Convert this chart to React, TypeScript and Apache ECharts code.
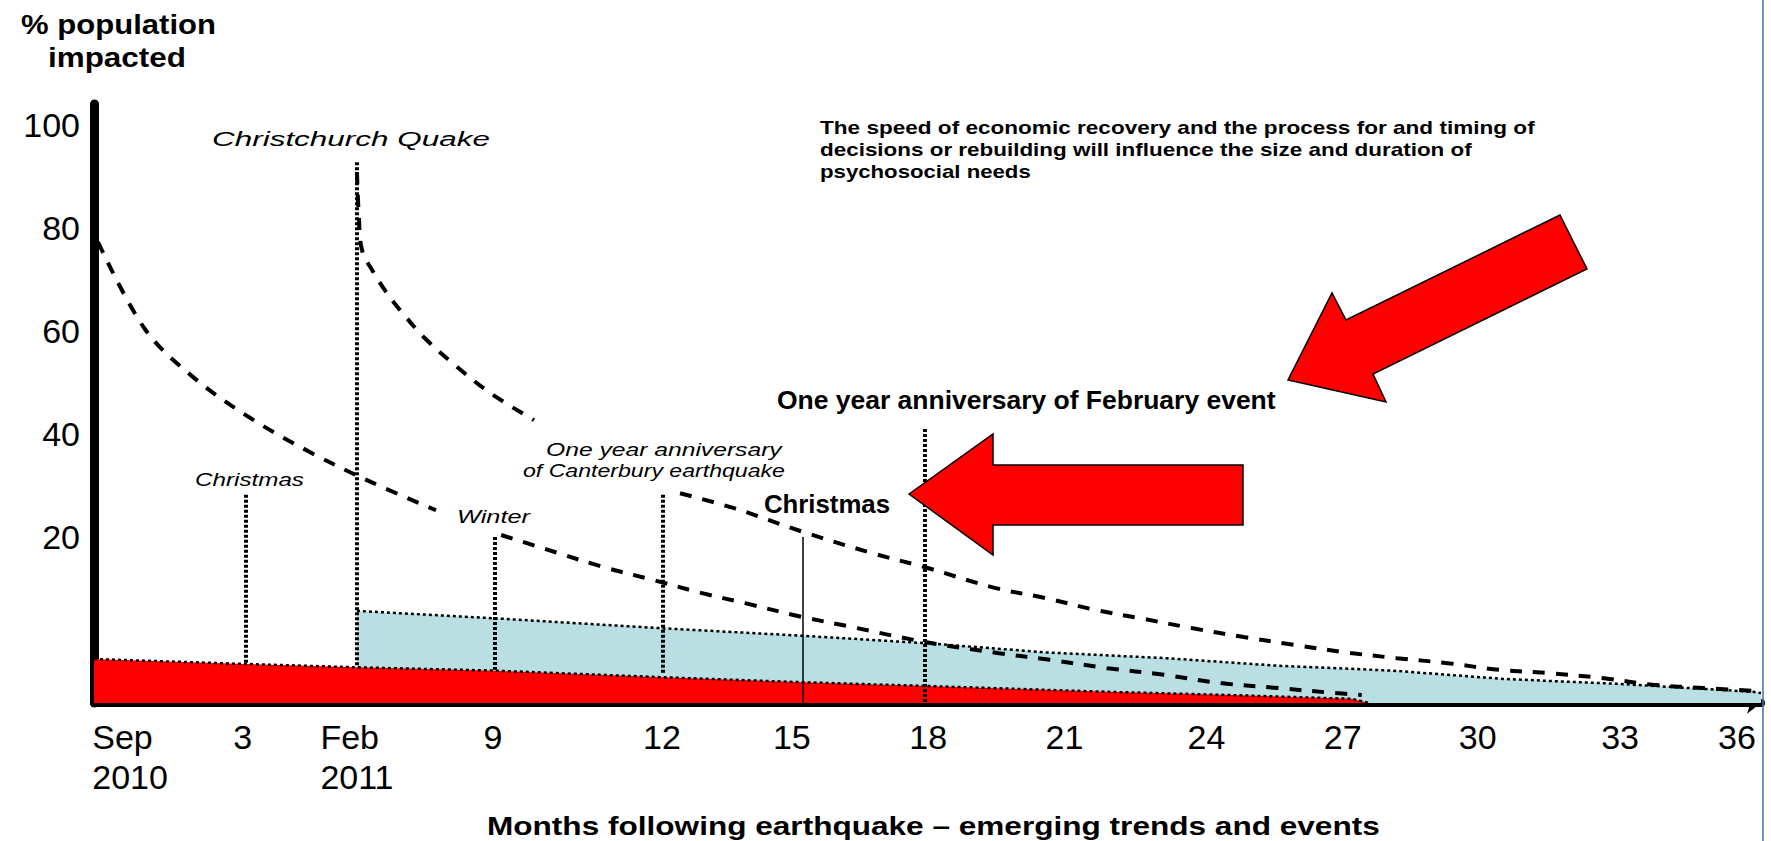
import React, { useEffect, useRef } from 'react';
import * as echarts from 'echarts';

// x: months following the 4 Sep 2010 Canterbury earthquake; y: % population impacted.
// The original diagram draws the 0–20 % band (baseline up to the "20" label) about 1.61x taller
// than the scale used above 20, so values below 20 are mapped onto that stretched band.

const xTickPositions = [0.78, 3.22, 5.69, 8.63, 12.29, 15.1, 18.05, 21.0, 24.07, 27.02, 29.94, 33.02, 35.55];
const xTickLabels = ['Sep\n2010', '3', 'Feb\n2011', '9', '12', '15', '18', '21', '24', '27', '30', '33', '36'];
const yTickValues = [20, 40, 60, 80, 100];

// Dashed decay curve after the Sep 2010 Canterbury quake (null = gap around the "Winter" note)
const canterburyCurveMonths = [0.087, 1.1, 2.14, 3.35, 4.67, 5.99, 7.4, 8.1, 8.81, 9.97, 11.01, 12.12, 13.11, 14.11, 15.3, 16.36, 17.98, 19.58, 20.68, 21.92, 23.15, 24.38, 25.62, 26.85, 27.43];
const canterburyCurveValues = [77.3, 60.4, 51.1, 43.3, 36.5, 30.7, 25.2, null, 20.4, 18.2, 16.4, 14.8, 13.3, 12.0, 10.4, 9.2, 7.35, 6.0, 5.2, 4.2, 3.4, 2.4, 1.8, 1.2, 0.96];

// Dashed decay curve after the Feb 2011 Christchurch quake (null = gap around the anniversary note)
const christchurchCurveMonths = [5.69, 5.73, 5.8, 6.04, 6.32, 6.62, 7.16, 7.81, 8.57, 9.52, 11.1, 12.68, 13.85, 15.34, 16.81, 18.02, 19.47, 20.58, 21.68, 22.65, 23.78, 24.88, 25.98, 27.09, 28.19, 29.29, 30.4, 31.5, 32.63, 33.73, 34.83, 35.94];
const christchurchCurveValues = [90.9, 82.5, 75.7, 71.5, 67.6, 64.1, 58.6, 53.4, 48.0, 42.7, null, 28.5, 25.6, 21.0, 18.1, 16.3, 13.9, 12.65, 11.2, 10.2, 9.0, 7.95, 7.0, 6.1, 5.4, 4.8, 4.0, 3.6, 3.0, 2.2, 1.8, 1.45];

// Red band (from Sep 2010) and light-blue band (from Feb 2011)
const septemberBandMonths = [0, 3.29, 5.69, 8.68, 12.31, 15.34, 18.02, 21.92, 24.64, 27.22, 27.6];
const septemberBandValues = [5.3, 4.7, 4.3, 3.9, 3.1, 2.5, 2.05, 1.35, 0.95, 0.5, 0];
const februaryBandMonths = [5.69, 8.68, 12.31, 15.34, 18.02, 20.6, 23.2, 25.6, 28.1, 30.5, 33.0, 35.9, 36.07];
const februaryBandValues = [11.1, 10.2, 9.0, 8.1, 7.2, 6.1, 5.4, 4.5, 3.9, 2.9, 2.3, 1.35, 1.2];

// Event markers
const eventNames = ['Christmas 2010', 'Christchurch Quake', 'Winter', 'Canterbury anniversary', 'Christmas 2011', 'February anniversary'];
const eventMonths = [3.29, 5.69, 8.68, 12.3, 15.34, 17.98];
const eventTops = [28.2, 92.8, 20.0, 28.2, 20.0, 41.0];
const eventBottoms = [4.8, 4.3, 4.0, 3.4, 0, 0];

const BAND_STRETCH = 8.3 / 5.15;
const toAxis = (v: number | null): number | string =>
  v == null ? '-' : v >= 20 ? v : 20 - (20 - v) * BAND_STRETCH;

const FONT = '"Liberation Sans", Arial, sans-serif';

function measure(text: string, font: string): number {
  try {
    const ctx = document.createElement('canvas').getContext('2d');
    if (!ctx) return 0;
    ctx.font = font;
    return ctx.measureText(text).width;
  } catch (e) {
    return 0;
  }
}

function fitText(text: string, left: number, width: number, cy: number, size: number, weight: string, style: string) {
  const w = measure(text, `${style} ${weight} ${size}px ${FONT}`);
  const sx = w > 0 ? width / w : 1;
  return {
    type: 'text',
    x: left,
    y: cy,
    scaleX: sx,
    z: 30,
    silent: true,
    style: {
      text,
      fontSize: size,
      fontWeight: weight,
      fontStyle: style,
      fontFamily: FONT,
      fill: '#000',
      align: 'left',
      verticalAlign: 'middle',
      textAlign: 'left',
      textVerticalAlign: 'middle',
    },
  };
}

const pairs = (xs: number[], ys: (number | null)[]) => xs.map((x, i) => [x, toAxis(ys[i])]);

export default function App() {
  const ref = useRef<HTMLDivElement>(null);

  useEffect(() => {
    if (!ref.current) return;
    const chart = echarts.init(ref.current, undefined, { renderer: 'svg' });

    const texts = [
      fitText('% population', 21, 195, 25, 27, 'bold', 'normal'),
      fitText('impacted', 48, 138, 57, 27, 'bold', 'normal'),
      fitText('Christchurch Quake', 212, 278, 139, 21, 'normal', 'italic'),
      fitText('The speed of economic recovery and the process for and timing of', 820, 715, 128, 18, 'bold', 'normal'),
      fitText('decisions or rebuilding will influence the size and duration of', 820, 652, 150, 18, 'bold', 'normal'),
      fitText('psychosocial needs', 820, 211, 172, 18, 'bold', 'normal'),
      fitText('One year anniversary of February event', 777, 499, 400, 25, 'bold', 'normal'),
      fitText('Christmas', 764, 126, 504, 25, 'bold', 'normal'),
      fitText('One year anniversary', 546, 236, 450, 18, 'normal', 'italic'),
      fitText('of Canterbury earthquake', 523, 262, 470, 18, 'normal', 'italic'),
      fitText('Christmas', 195, 109, 480, 18, 'normal', 'italic'),
      fitText('Winter', 457, 73, 517, 18, 'normal', 'italic'),
      fitText('Months following earthquake \u2013 emerging trends and events', 487, 893, 826, 25, 'bold', 'normal'),
    ];

    const arrows = [
      {
        type: 'polygon',
        z: 25,
        silent: true,
        shape: { points: [[1560, 215], [1587, 269], [1373, 374], [1386, 402], [1288, 380], [1332, 293], [1346, 320]] },
        style: { fill: '#FF0000', stroke: '#000', lineWidth: 1.5 },
      },
      {
        type: 'polygon',
        z: 25,
        silent: true,
        shape: { points: [[909, 494], [993, 434], [993, 465], [1243, 465], [1243, 525], [993, 525], [993, 555]] },
        style: { fill: '#FF0000', stroke: '#000', lineWidth: 1.5 },
      },
      {
        type: 'line',
        z: 25,
        silent: true,
        shape: { x1: 1763, y1: 0, x2: 1763, y2: 841 },
        style: { stroke: '#3F6FB6', lineWidth: 1.5 },
      },
    ];

    const eventLines = eventNames.map((name, i) => {
      const thin = name === 'Christmas 2011';
      return [
        {
          coord: [eventMonths[i], toAxis(eventTops[i])],
          lineStyle: thin
            ? { color: '#000', width: 1.5, type: 'solid' }
            : { color: '#000', width: 4, type: [3, 2] },
        },
        { coord: [eventMonths[i], toAxis(eventBottoms[i])] },
      ];
    });

    const dashed = { color: '#000', width: 4, type: [12, 11], cap: 'butt' };
    const dotted = { color: '#000', width: 2.5, type: [3, 3] };

    chart.setOption({
      animation: false,
      backgroundColor: '#fff',
      grid: { left: 94, right: 10, top: 104, bottom: 138, containLabel: false },
      xAxis: {
        type: 'value',
        min: 0,
        max: 36.07,
        splitLine: { show: false },
        axisTick: { show: false },
        axisLine: {
          show: true,
          onZero: false,
          symbol: ['none', 'arrow'],
          symbolSize: [16, 14],
          lineStyle: { color: '#000', width: 8 },
        },
        axisLabel: {
          customValues: xTickPositions,
          margin: 14,
          color: '#000',
          fontSize: 34,
          fontFamily: FONT,
          lineHeight: 40,
          formatter: (value: number) => {
            let best = 0;
            for (let i = 1; i < xTickPositions.length; i++) {
              if (Math.abs(xTickPositions[i] - value) < Math.abs(xTickPositions[best] - value)) best = i;
            }
            const t = xTickLabels[best];
            return t.indexOf('\n') >= 0 ? t.split('\n').map((s) => `{l|${s}}`).join('\n') : t;
          },
          rich: {
            l: { align: 'left', fontSize: 34, fontFamily: FONT, lineHeight: 40, color: '#000' },
          },
        },
      },
      yAxis: {
        type: 'value',
        min: toAxis(0),
        max: 104.1,
        splitLine: { show: false },
        axisTick: { show: false },
        axisLine: { show: true, onZero: false, lineStyle: { color: '#000', width: 9 } },
        axisLabel: {
          customValues: yTickValues,
          margin: 14,
          color: '#000',
          fontSize: 34,
          fontFamily: FONT,
        },
      },
      series: [
        {
          name: 'February 2011 band',
          type: 'line',
          z: 1,
          symbol: 'none',
          data: pairs(februaryBandMonths, februaryBandValues),
          lineStyle: dotted,
          areaStyle: { color: '#B9DFE3', opacity: 1, origin: 'start' },
        },
        {
          name: 'September 2010 band',
          type: 'line',
          z: 2,
          symbol: 'none',
          data: pairs(septemberBandMonths, septemberBandValues),
          lineStyle: dotted,
          areaStyle: { color: '#FF0000', opacity: 1, origin: 'start' },
        },
        {
          name: 'Events',
          type: 'line',
          z: 3,
          symbol: 'none',
          data: [],
          markLine: {
            silent: true,
            symbol: ['none', 'none'],
            label: { show: false },
            data: eventLines,
          },
        },
        {
          name: 'Canterbury quake',
          type: 'line',
          z: 4,
          symbol: 'none',
          smooth: 0.35,
          connectNulls: false,
          data: pairs(canterburyCurveMonths, canterburyCurveValues),
          lineStyle: dashed,
        },
        {
          name: 'Christchurch quake',
          type: 'line',
          z: 4,
          symbol: 'none',
          smooth: 0.35,
          connectNulls: false,
          data: pairs(christchurchCurveMonths, christchurchCurveValues),
          lineStyle: dashed,
        },
      ],
      graphic: { elements: [...arrows, ...texts] },
    });

    return () => chart.dispose();
  }, []);

  return (
    <div
      ref={ref}
      style={{ position: 'fixed', left: 0, top: 0, width: 1771, height: 841, background: '#fff' }}
    />
  );
}
